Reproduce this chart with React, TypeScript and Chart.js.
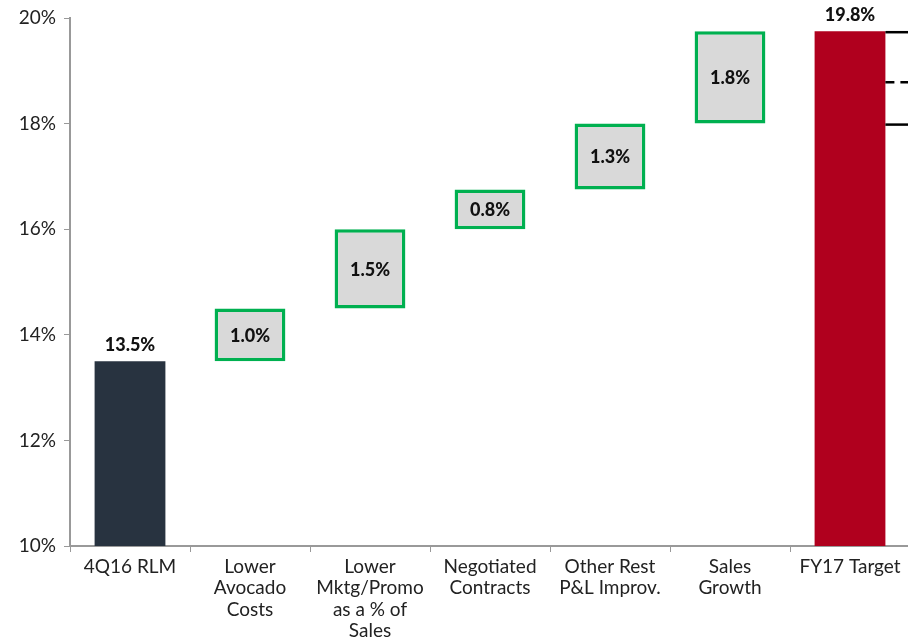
import React, { useEffect, useRef } from "react";
import { Chart, registerables } from "chart.js";

Chart.register(...registerables);

const categories: string[][] = [
  ["4Q16 RLM"],
  ["Lower", "Avocado", "Costs"],
  ["Lower", "Mktg/Promo", "as a % of", "Sales"],
  ["Negotiated", "Contracts"],
  ["Other Rest", "P&L Improv."],
  ["Sales", "Growth"],
  ["FY17 Target"],
];
const startValue = 13.5;
const deltas = [1.0, 1.5, 0.75, 1.25, 1.75];
const targetValue = 19.75;
const valueLabels = ["13.5%", "1.0%", "1.5%", "0.8%", "1.3%", "1.8%", "19.8%"];
const yTicks = [10, 12, 14, 16, 18, 20];
const bracketLevels = [19.75, 18.8, 18.0];
const bracketDashed = [false, true, false];

const FONT = "Lato, 'Open Sans', sans-serif";

export default function App() {
  const ref = useRef<HTMLCanvasElement | null>(null);

  useEffect(() => {
    if (!ref.current) return;
    const data: (number | [number, number])[] = [startValue];
    let cum = startValue;
    deltas.forEach((d) => {
      data.push([cum, cum + d]);
      cum += d;
    });
    data.push(targetValue);

    const n = data.length;
    const bg = data.map((_, i) => (i === 0 ? "#283340" : i === n - 1 ? "#B0001E" : "#D9D9D9"));
    const bc = data.map((_, i) => (i === 0 || i === n - 1 ? "rgba(0,0,0,0)" : "#00B050"));
    const bw = data.map((_, i) => (i === 0 || i === n - 1 ? 0 : 3.5));

    const labelPlugin = {
      id: "valueLabels",
      afterDatasetsDraw(chart: any) {
        const ctx = chart.ctx;
        const meta = chart.getDatasetMeta(0);
        ctx.save();
        ctx.font = `900 18px ${FONT}`;
        ctx.fillStyle = "#111";
        ctx.textAlign = "center";
        meta.data.forEach((el: any, i: number) => {
          const p = el.getProps(["x", "y", "base"], true);
          if (i === 0 || i === n - 1) {
            ctx.textBaseline = "bottom";
            ctx.fillText(valueLabels[i], p.x, Math.min(p.y, p.base) - 7);
          } else {
            ctx.textBaseline = "middle";
            ctx.fillText(valueLabels[i], p.x, (p.y + p.base) / 2 + 1);
          }
        });
        // bracket lines to the right of the last bar
        const last = meta.data[n - 1].getProps(["x", "width"], true);
        const x0 = last.x + last.width / 2;
        const yScale = chart.scales.y;
        ctx.strokeStyle = "#000";
        ctx.lineWidth = 2.5;
        bracketLevels.forEach((v, k) => {
          const y = yScale.getPixelForValue(v) + 1;
          ctx.setLineDash(bracketDashed[k] ? [9, 6] : []);
          ctx.beginPath();
          ctx.moveTo(x0, y);
          ctx.lineTo(chart.width, y);
          ctx.stroke();
        });
        ctx.restore();
      },
    };

    const chart = new Chart(ref.current, {
      type: "bar",
      data: {
        labels: categories,
        datasets: [
          {
            data: data as any,
            backgroundColor: bg,
            borderColor: bc,
            borderWidth: bw,
            borderSkipped: false,
            barPercentage: 0.59,
            categoryPercentage: 1,
          },
        ],
      },
      options: {
        animation: false,
        responsive: false,
        maintainAspectRatio: false,
        layout: { padding: { top: 18, right: 2, left: 0, bottom: 0 } },
        plugins: { legend: { display: false }, tooltip: { enabled: false } },
        scales: {
          x: {
            grid: { drawOnChartArea: false, drawTicks: true, tickLength: 6, color: "#999", offset: true },
            border: { color: "#999", width: 2 },
            ticks: {
              color: "#222",
              font: { family: FONT, size: 19, lineHeight: 1.13 },
              padding: 4,
              maxRotation: 0,
              autoSkip: false,
            },
            afterFit: (s: any) => {
              s.height = 92;
            },
          },
          y: {
            min: 10,
            max: 20,
            afterBuildTicks: (s: any) => {
              s.ticks = yTicks.map((v) => ({ value: v }));
            },
            grid: { drawOnChartArea: false, drawTicks: true, tickLength: 6, color: "#999" },
            border: { color: "#999", width: 2 },
            ticks: {
              color: "#222",
              font: { family: FONT, size: 19, lineHeight: 1.0 },
              padding: 8,
              callback: (v: any) => `${v}%`,
            },
            afterFit: (s: any) => {
              s.width = 70;
              s.paddingTop = 0;
            },
          },
        },
      },
      plugins: [labelPlugin],
    });
    return () => chart.destroy();
  }, []);

  return (
    <div style={{ position: "fixed", left: 0, top: 0, width: 908, height: 638, overflow: "hidden", background: "#fff" }}>
      <canvas ref={ref} width={912} height={638} style={{ display: "block", width: 912, height: 638 }} />
    </div>
  );
}
